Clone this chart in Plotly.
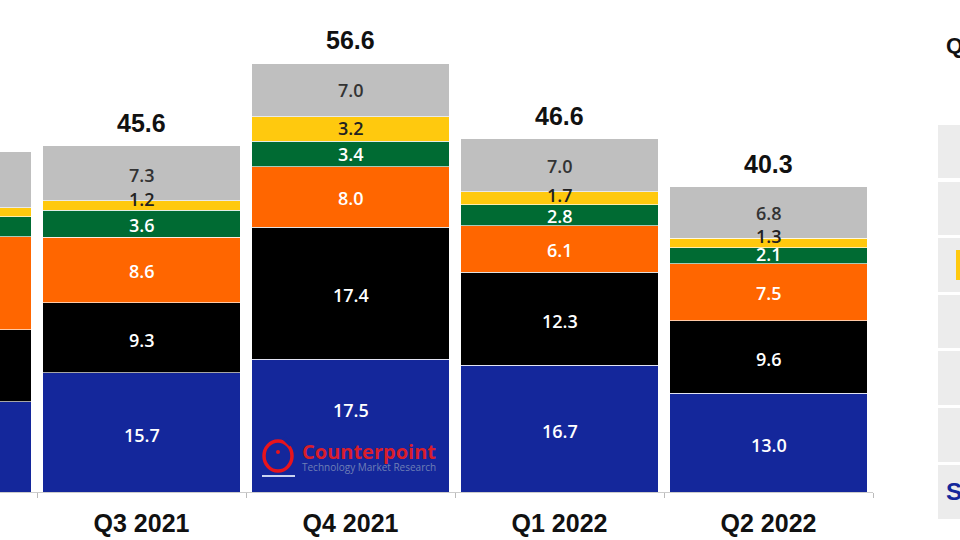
import plotly.graph_objects as go

quarters = ['Q2 2021', 'Q3 2021', 'Q4 2021', 'Q1 2022', 'Q2 2022']
blue = [11.9, 15.7, 17.5, 16.7, 13.0]
black = [9.5, 9.3, 17.4, 12.3, 9.6]
orange = [12.3, 8.6, 8.0, 6.1, 7.5]
green = [2.6, 3.6, 3.4, 2.8, 2.1]
yellow = [1.2, 1.2, 3.2, 1.7, 1.3]
gray = [7.4, 7.3, 7.0, 7.0, 6.8]
totals = [44.9, 45.6, 56.6, 46.6, 40.3]

series = [
    (blue, '#14279b', 'white'),
    (black, '#000000', 'white'),
    (orange, '#ff6600', 'white'),
    (green, '#006b33', 'white'),
    (yellow, '#ffc90e', '#222222'),
    (gray, '#bfbfbf', '#333333'),
]

# Some labels sit off the middle of their band in the original
nudges = {
    0: [-2, -2, 16, -2, -2],
    1: [-2, -2, -2, -2, -2],
    2: [-1, -1, -1, -1, -1],
    3: [-1, -1, 0, -1, 2],
    4: [7, 6, 1, 3, 7],
    5: [-1, -2, 0, -1, -1],
}

# Grey table on the right, cut off by the edge of the picture
table_rows = [(125, 178), (182, 235), (238, 292), (295, 348), (351, 405), (408, 462), (465, 519)]
table_head = 'Q2 2022'
table_brand = 'Samsung'


def px(x):
    return x / 960


def py(y):
    return 1 - y / 540


fig = go.Figure()
annotations = []
base = [0] * len(quarters)
for i, (vals, color, textcolor) in enumerate(series):
    fig.add_trace(go.Bar(x=quarters, y=vals, marker=dict(color=color, line=dict(color='rgba(255,255,255,0.65)', width=1)),
                         hoverinfo='skip', showlegend=False))
    for k, q in enumerate(quarters):
        annotations.append(dict(x=q, y=base[k] + vals[k] / 2, text='%.1f' % vals[k], showarrow=False,
                                yshift=nudges[i][k],
                                font=dict(family='Open Sans', size=18, weight=600, color=textcolor)))
        base[k] += vals[k]

# Totals above the stacks
for q, t in zip(quarters, totals):
    annotations.append(dict(x=q, y=t, text='<b>%.1f</b>' % t, showarrow=False, yanchor='bottom', yshift=7,
                            font=dict(family='Liberation Sans', size=25, color='#111111')))

shapes = []
for top, bottom in table_rows:
    shapes.append(dict(type='rect', xref='paper', yref='paper', x0=px(938), x1=1, y0=py(bottom), y1=py(top),
                       fillcolor='#ececec', line=dict(width=0)))
# Gold first letter in the table's third row
shapes.append(dict(type='rect', xref='paper', yref='paper', x0=px(956), x1=1, y0=py(280), y1=py(250),
                   fillcolor='#ffc90e', line=dict(width=0)))

# Counterpoint logo on the Q4 2021 bar
shapes.append(dict(type='circle', xref='paper', yref='paper', x0=px(264), x1=px(292), y0=py(471), y1=py(441),
                   line=dict(color='#e8141c', width=3.5)))
shapes.append(dict(type='line', xref='paper', yref='paper', x0=px(284), x1=px(291), y0=py(438), y1=py(445),
                   line=dict(color='#14279b', width=4)))
shapes.append(dict(type='circle', xref='paper', yref='paper', x0=px(276), x1=px(280), y0=py(454), y1=py(450),
                   fillcolor='#e8141c', line=dict(width=0)))
shapes.append(dict(type='line', xref='paper', yref='paper', x0=px(262), x1=px(295), y0=py(476), y1=py(476),
                   line=dict(color='#c9d3f0', width=2)))

annotations += [
    dict(xref='paper', yref='paper', x=px(300), y=py(451), text='<b>Counterpoint</b>', showarrow=False, xanchor='left', yanchor='middle',
         font=dict(family='Open Sans', size=20, color='#d81e2c')),
    dict(xref='paper', yref='paper', x=px(300), y=py(467), text='Technology Market Research', showarrow=False, xanchor='left', yanchor='middle',
         font=dict(family='Open Sans', size=10, color='#6f7fb5')),
    dict(xref='paper', yref='paper', x=px(944), y=py(46), text='<b>%s</b>' % table_head, showarrow=False, xanchor='left', yanchor='middle',
         font=dict(family='Liberation Sans', size=22, color='#111111')),
    dict(xref='paper', yref='paper', x=px(944), y=py(491), text='<b>%s</b>' % table_brand, showarrow=False, xanchor='left', yanchor='middle',
         font=dict(family='Liberation Sans', size=24, color='#14279b')),
]

fig.update_layout(
    width=960, height=540, barmode='stack', bargap=0.057, plot_bgcolor='white', paper_bgcolor='white',
    margin=dict(l=0, r=0, t=0, b=0), shapes=shapes, annotations=annotations,
    xaxis=dict(domain=[0, 873 / 960], range=[1 - 141.5 / 209, 4.5], type='category', categoryorder='array', categoryarray=quarters,
               tickson='boundaries', ticks='outside', ticklen=5, tickcolor='#bbbbbb', showline=True, linecolor='#cccccc',
               showgrid=False, ticklabelstandoff=9, tickfont=dict(family='Liberation Sans', size=25, color='#111111'),
               tickprefix='<b>', ticksuffix='</b>'),
    yaxis=dict(domain=[48 / 540, 1], range=[0, 492 / 7.58], visible=False),
)
# The page's default body margin would push the chart 8px off the corner
fig.write_html('out.html', config=dict(displayModeBar=False), post_script="document.body.style.margin='0';")
